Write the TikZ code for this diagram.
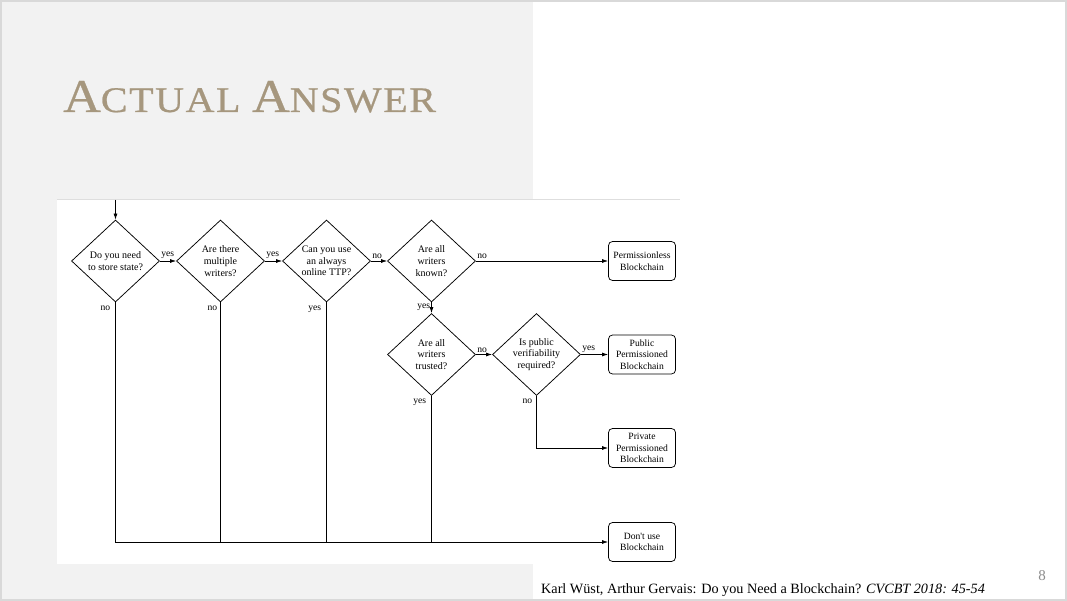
\documentclass[tikz,border=0pt]{standalone}
\usepackage{fontspec}
\usetikzlibrary{shapes.geometric,arrows.meta}
\newfontfamily\flowfont{Liberation Serif}
\newfontfamily\titlefont[LetterSpace=4,FakeBold=0.6]{Liberation Serif}
\newfontfamily\citefont{Liberation Serif}
\definecolor{slideborder}{RGB}{217,217,217}
\definecolor{panelgray}{RGB}{242,242,242}
\definecolor{titletan}{RGB}{166,151,126}
\definecolor{pagegray}{RGB}{140,140,140}
\definecolor{imgedge}{RGB}{222,222,222}
\tikzset{
  dia/.style={draw, line width=0.75pt, shape=diamond, aspect=1.073, minimum width=88pt, minimum height=82pt, inner sep=0pt, align=center, font=\flowfont\fontsize{10}{11.7}\selectfont},
  endbox/.style={draw, line width=0.75pt, rounded corners=4pt, minimum width=67pt, minimum height=39pt, inner sep=1pt, align=center, font=\flowfont\fontsize{9.6}{11.7}\selectfont},
  arr/.style={line width=0.75pt, -{Latex[length=6pt,width=4pt]}},
  ln/.style={line width=0.75pt},
  lbl/.style={font=\flowfont\fontsize{9.6}{11}\selectfont, inner sep=1pt},
}
\begin{document}
\begin{tikzpicture}[x=1pt,y=-1pt]
\useasboundingbox (0,0) rectangle (1067,601);
% slide
\fill[slideborder] (0,0) rectangle (1067,601);
\fill[white] (2,2) rectangle (1065,599);
\fill[panelgray] (2,2) rectangle (533,599);
% title
\node[anchor=base west, inner sep=0pt, text=titletan, xscale=1.11] (title) at (63,112)
  {\titlefont\fontsize{47}{47}\selectfont A\fontsize{36}{36}\selectfont CTUAL \fontsize{47}{47}\selectfont A\fontsize{36}{36}\selectfont NSWER};
% flowchart image
\fill[white] (57,199) rectangle (680,564);
\draw[imgedge, line width=0.8pt] (57,199) -- (680,199);
% nodes
\coordinate (start) at (115.5,200);
\node[dia] (d1) at (115.5,261) {Do you need\\to store state?};
\node[dia] (d2) at (220.5,261) {Are there\\multiple\\writers?};
\node[dia] (d3) at (326.5,261) {Can you use\\an always\\online TTP?};
\node[dia] (d4) at (431.5,261) {Are all\\writers\\known?};
\node[dia] (d5) at (431.5,354.5) {Are all\\writers\\trusted?};
\node[dia] (d6) at (536.5,354.5) {Is public\\verifiability\\required?};
\node[endbox] (perm) at (642,261) {Permissionless\\Blockchain};
\node[endbox] (pub) at (642,354.5) {Public\\Permissioned\\Blockchain};
\node[endbox] (priv) at (642,448) {Private\\Permissioned\\Blockchain};
\node[endbox] (dont) at (642,542) {Don't use\\Blockchain};
% connectors
\draw[arr] (start) -- (d1.north);
\draw[arr] (d1.east) -- node[lbl, pos=0, anchor=south west, yshift=1pt] {yes} (d2.west);
\draw[arr] (d2.east) -- node[lbl, pos=0, anchor=south west, yshift=1pt] {yes} (d3.west);
\draw[arr] (d3.east) -- node[lbl, pos=0, anchor=south west, yshift=1pt] {no} (d4.west);
\draw[arr] (d4.east) -- node[lbl, pos=0, anchor=south west, yshift=1pt] {no} (perm.west);
\draw[arr] (d4.south) -- node[lbl, pos=0.45, anchor=east] {yes} (d5.north);
\draw[arr] (d5.east) -- node[lbl, pos=0, anchor=south west, yshift=1pt] {no} (d6.west);
\draw[arr] (d6.east) -- node[lbl, pos=0, anchor=south west, yshift=1pt] {yes} (pub.west);
\draw[arr] (d6.south) |- node[lbl, pos=0, anchor=north east, xshift=-3pt, yshift=-2pt] {no} (priv.west);
\draw[arr] (d1.south) |- node[lbl, pos=0, anchor=north east, xshift=-4pt, yshift=-2pt] {no} (dont.west);
\draw[ln] (d2.south) -- node[lbl, pos=0, anchor=north east, xshift=-2pt, yshift=-2pt] {no} (d2.south |- dont.west);
\draw[ln] (d3.south) -- node[lbl, pos=0, anchor=north east, xshift=-4pt, yshift=-2pt] {yes} (d3.south |- dont.west);
\draw[ln] (d5.south) -- node[lbl, pos=0, anchor=north east, xshift=-4pt, yshift=-2pt] {yes} (d5.south |- dont.west);
% citation and page number
\node[anchor=base west, inner sep=0pt] (cite) at (541,593)
  {\citefont\fontsize{14.2}{15}\selectfont Karl Wüst, Arthur Gervais: Do you Need a Blockchain? \textit{CVCBT 2018: 45-54}};
\node[anchor=base, inner sep=0pt, text=pagegray] (page) at (1042,580)
  {\citefont\fontsize{15}{15}\selectfont 8};
\end{tikzpicture}
\end{document}
